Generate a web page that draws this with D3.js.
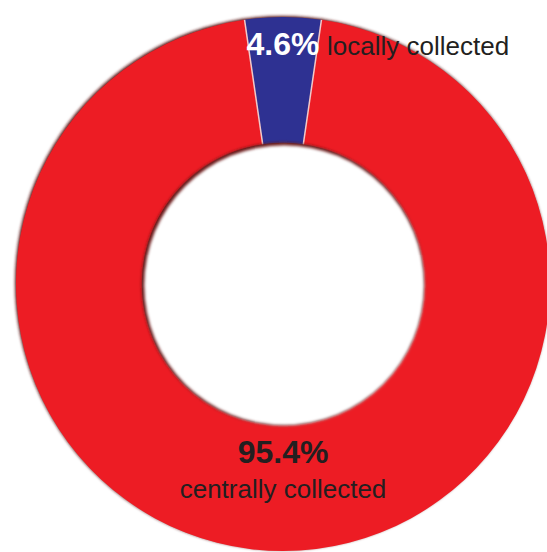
<!DOCTYPE html>
<html>
<head>
<meta charset="utf-8">
<script src="https://cdn.jsdelivr.net/npm/d3@7"></script>
<style>
  body { margin: 0; background: #fff; }
  svg { display: block; }
</style>
</head>
<body>
<svg id="chart"></svg>
<script>
// data
const categories = ["locally collected", "centrally collected"];
const shares = [4.6, 95.4];
const pctLabels = ["4.6%", "95.4%"];
const colors = ["#2e3192", "#ed1c24"];

const width = 547;
const height = 552;
const cx = 283;
const cy = 284;
const outerR = 267;
const innerR = 141;

const svg = d3.select("#chart").attr("width", width).attr("height", height);

// soft dark rim like the original bevel
const defs = svg.append("defs");
const blur = defs.append("filter").attr("id", "rim").attr("x", "-10%").attr("y", "-10%").attr("width", "120%").attr("height", "120%");
blur.append("feGaussianBlur").attr("stdDeviation", 1.5);

const g = svg.append("g").attr("transform", "translate(" + cx + "," + cy + ")");

// blue slice sits centred on top
const pie = d3.pie()
  .sort(null)
  .startAngle(-Math.PI * shares[0] / 100)
  .endAngle(2 * Math.PI - Math.PI * shares[0] / 100)
  .value((d) => d);

const arcs = pie(shares);
const arc = d3.arc().innerRadius(innerR).outerRadius(outerR);

// shadow on the upper left of the outer edge
g.append("circle")
  .attr("cx", -1)
  .attr("cy", -1)
  .attr("r", outerR)
  .attr("fill", "#5a1515")
  .attr("filter", "url(#rim)");

g.selectAll("path.slice")
  .data(arcs)
  .enter()
  .append("path")
  .attr("class", "slice")
  .attr("d", arc)
  .attr("fill", (d, i) => colors[i]);

// light separators between slices
g.selectAll("line.sep")
  .data(arcs)
  .enter()
  .append("line")
  .attr("class", "sep")
  .attr("x1", (d) => d3.pointRadial(d.startAngle, innerR)[0])
  .attr("y1", (d) => d3.pointRadial(d.startAngle, innerR)[1])
  .attr("x2", (d) => d3.pointRadial(d.startAngle, outerR)[0])
  .attr("y2", (d) => d3.pointRadial(d.startAngle, outerR)[1])
  .attr("stroke", "#f1c9c9")
  .attr("stroke-width", 1.5);

// inner hole with dark rim on its upper left
g.append("circle")
  .attr("r", innerR + 0.5)
  .attr("fill", "#6a1414")
  .attr("filter", "url(#rim)");

g.append("circle")
  .attr("cx", 1.2)
  .attr("cy", 1.2)
  .attr("r", innerR - 1)
  .attr("fill", "#fff")
  .attr("filter", "url(#rim)");

// labels
const labelArc = d3.arc().innerRadius(240).outerRadius(240);
const topPos = labelArc.centroid(arcs[0]);

g.append("text")
  .attr("x", topPos[0])
  .attr("y", topPos[1] + 11)
  .attr("text-anchor", "middle")
  .style("font-family", "Liberation Sans, Arial, sans-serif")
  .style("font-weight", "bold")
  .style("font-size", "32px")
  .attr("fill", "#fff")
  .text(pctLabels[0]);

g.append("text")
  .attr("x", topPos[0] + 44)
  .attr("y", topPos[1] + 11)
  .attr("text-anchor", "start")
  .style("font-family", "Liberation Sans, Arial, sans-serif")
  .style("font-size", "26px")
  .attr("fill", "#231f20")
  .text(categories[0]);

const bottomArc = d3.arc().innerRadius(196).outerRadius(196);
const botPos = bottomArc.centroid({ startAngle: Math.PI, endAngle: Math.PI });

g.append("text")
  .attr("x", 0)
  .attr("y", botPos[1] - 17)
  .attr("text-anchor", "middle")
  .style("font-family", "Liberation Sans, Arial, sans-serif")
  .style("font-weight", "bold")
  .style("font-size", "32px")
  .attr("fill", "#231f20")
  .text(pctLabels[1]);

g.append("text")
  .attr("x", 0)
  .attr("y", botPos[1] + 18)
  .attr("text-anchor", "middle")
  .style("font-family", "Liberation Sans, Arial, sans-serif")
  .style("font-size", "26px")
  .attr("fill", "#231f20")
  .text(categories[1]);
</script>
</body>
</html>
